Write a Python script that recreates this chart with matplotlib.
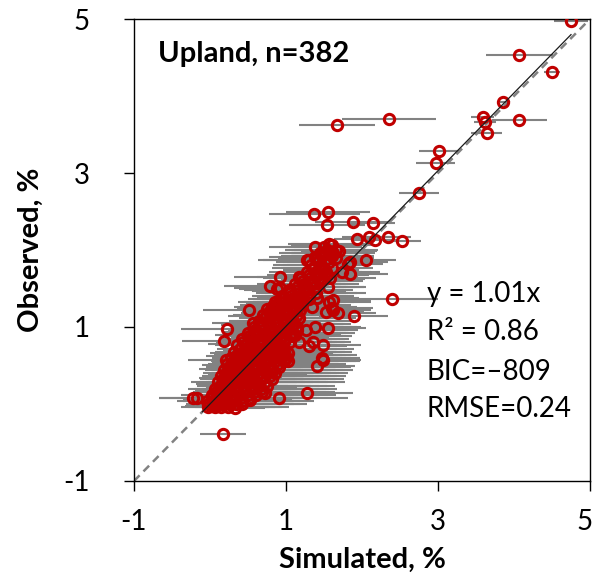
"""
Observed vs simulated (upland), with horizontal error bars on simulated values.
"""

import matplotlib
import matplotlib.pyplot as plt
import numpy as np
from matplotlib.transforms import ScaledTranslation

matplotlib.use("Agg")

plt.rcParams["font.family"] = ["Lato", "DejaVu Sans"]
plt.rcParams["axes.unicode_minus"] = False

# ── sparse / outlying points ───────────────────────────────────────────────
sparse_sim = [4.75, 4.07, 4.50, 3.86, 3.59, 3.62, 4.07, 3.64, 2.36, 1.67,
              3.01, 2.97, 2.75, 1.37, 1.55, 1.54, 1.88, 2.14, 1.93, 2.09,
              2.17, 2.34, 2.53, 1.38, 1.61, 1.70, 1.30, 1.66, 1.84, 2.05,
              0.92, 1.17, 1.58, 1.84, 0.79, 0.88, 1.05, 2.40, 1.17, 0.51,
              0.92, 1.57, 1.62, 1.68, 1.89, 0.57, 0.22, 0.18, 1.17, 1.36,
              1.30, 1.49, 1.55, 1.38, 1.26, 0.21, 1.47, 1.49, 1.41, 1.28,
              0.91, 0.72, 0.53, 0.33, -0.17, -0.22, 0.17, 1.53, 1.60, 1.62,
              1.41, 1.34, 1.55, 1.49, 1.82, 1.74, 1.62, 1.51, 1.38, 1.28,
              1.05, 0.92]
sparse_obs = [4.97, 4.53, 4.31, 3.92, 3.73, 3.66, 3.69, 3.52, 3.70, 3.62,
              3.29, 3.13, 2.74, 2.47, 2.49, 2.32, 2.36, 2.35, 2.14, 2.17,
              2.13, 2.17, 2.12, 2.04, 2.06, 1.99, 1.87, 1.90, 1.84, 1.87,
              1.65, 1.65, 1.64, 1.69, 1.53, 1.49, 1.47, 1.36, 1.36, 1.22,
              1.32, 1.32, 1.22, 1.18, 1.14, 1.05, 0.97, 0.82, 0.81, 0.81,
              0.75, 0.76, 0.99, 1.00, 0.96, 0.57, 0.60, 0.57, 0.49, 0.14,
              0.08, 0.14, 0.05, -0.05, 0.08, 0.08, -0.39, 1.19, 1.25, 1.35,
              1.38, 1.26, 1.52, 1.62, 1.82, 1.71, 1.96, 1.96, 1.91, 1.87,
              1.48, 1.51]
sparse_err = [0.22, 0.44, 0.10, 0.05, 0.15, 0.14, 0.36, 0.20, 0.62, 0.50,
              0.26, 0.26, 0.26, 0.60, 0.55, 0.50, 0.50, 0.30, 0.30, 0.35,
              0.30, 0.30, 0.25, 0.60, 0.55, 0.50, 0.60, 0.50, 0.50, 0.40,
              0.60, 0.55, 0.60, 0.50, 0.60, 0.50, 0.50, 0.60, 0.60, 0.60,
              0.55, 0.55, 0.50, 0.50, 0.45, 0.55, 0.60, 0.55, 0.60, 0.50,
              0.50, 0.50, 0.50, 0.55, 0.55, 0.50, 0.50, 0.50, 0.50, 0.60,
              0.90, 0.60, 0.55, 0.40, 0.50, 0.45, 0.30, 0.50, 0.55, 0.50,
              0.55, 0.60, 0.50, 0.55, 0.45, 0.50, 0.55, 0.60, 0.60, 0.65,
              0.60, 0.60]

# ── dense core, read row by row (observed level -> simulated values) ──────
core_obs = [-0.04, 0.00, 0.04, 0.08, 0.12, 0.16, 0.20, 0.24, 0.28, 0.32,
            0.36, 0.40, 0.44, 0.48, 0.52, 0.56, 0.60, 0.64, 0.68, 0.72,
            0.76, 0.80, 0.84, 0.88, 0.92, 0.96, 1.00, 1.04, 1.08, 1.12,
            1.16, 1.20, 1.24, 1.28, 1.32, 1.36, 1.40, 1.44, 1.48, 1.52,
            1.56, 1.60, 1.64, 1.68, 1.72, 1.76, 1.80, 1.84, 1.88, 1.92,
            1.96, 2.00, 2.04, 2.08]
core_sim = [
    [-0.03, 0.06, 0.15, 0.24],
    [-0.02, 0.07, 0.16, 0.25, 0.34, 0.42],
    [-0.04, 0.05, 0.14, 0.23, 0.32, 0.42],
    [0.03, 0.12, 0.21, 0.31, 0.41, 0.51],
    [0.02, 0.11, 0.20, 0.29, 0.39, 0.50, 0.61],
    [0.08, 0.17, 0.27, 0.37, 0.47, 0.58, 0.69],
    [0.06, 0.15, 0.25, 0.35, 0.45, 0.56, 0.67],
    [0.13, 0.23, 0.33, 0.43, 0.53, 0.64, 0.75],
    [0.10, 0.20, 0.30, 0.40, 0.50, 0.61, 0.73],
    [0.17, 0.27, 0.37, 0.48, 0.58, 0.69, 0.81],
    [0.14, 0.24, 0.35, 0.45, 0.56, 0.67, 0.79],
    [0.21, 0.31, 0.42, 0.53, 0.64, 0.75, 0.86],
    [0.18, 0.28, 0.39, 0.50, 0.61, 0.72, 0.83],
    [0.25, 0.36, 0.47, 0.58, 0.69, 0.80, 0.91],
    [0.23, 0.34, 0.45, 0.56, 0.67, 0.78, 0.89],
    [0.31, 0.42, 0.53, 0.64, 0.75, 0.86, 0.97, 1.03],
    [0.28, 0.39, 0.50, 0.61, 0.72, 0.83, 0.94, 1.00],
    [0.35, 0.46, 0.57, 0.68, 0.79, 0.90, 0.99],
    [0.32, 0.43, 0.54, 0.65, 0.76, 0.87, 0.97],
    [0.39, 0.50, 0.61, 0.72, 0.83, 0.94],
    [0.36, 0.47, 0.58, 0.69, 0.80, 0.91],
    [0.43, 0.54, 0.65, 0.76, 0.87, 0.98],
    [0.42, 0.53, 0.64, 0.75, 0.86, 0.98],
    [0.51, 0.62, 0.73, 0.84, 0.95, 1.07],
    [0.50, 0.61, 0.72, 0.83, 0.94, 1.06],
    [0.59, 0.70, 0.81, 0.92, 1.03, 1.15],
    [0.58, 0.69, 0.80, 0.91, 1.02, 1.14],
    [0.67, 0.78, 0.89, 1.00, 1.11],
    [0.65, 0.76, 0.87, 0.98, 1.09],
    [0.73, 0.84, 0.95, 1.06, 1.17],
    [0.70, 0.81, 0.92, 1.03, 1.14],
    [0.77, 0.88, 0.99, 1.10],
    [0.75, 0.86, 0.97, 1.08],
    [0.85, 0.97, 1.09, 1.20],
    [0.85, 0.97, 1.09, 1.20],
    [0.95, 1.07, 1.19, 1.30],
    [0.95, 1.07, 1.19, 1.30],
    [1.05, 1.17, 1.29, 1.40],
    [1.04, 1.16, 1.28],
    [1.14, 1.26, 1.38],
    [1.12, 1.24, 1.36],
    [1.22, 1.34, 1.46],
    [1.20, 1.32, 1.44],
    [1.30, 1.42, 1.54],
    [1.28, 1.40, 1.52],
    [1.36, 1.49, 1.60],
    [1.33, 1.46],
    [1.42, 1.56],
    [1.40, 1.52],
    [1.48, 1.61],
    [1.45, 1.58],
    [1.54, 1.66],
    [1.50],
    [1.57],
]
# error bars of the core are longer on the high side
core_err_lo = [0.35, 0.30, 0.40, 0.35, 0.40, 0.30, 0.35, 0.30, 0.35, 0.30,
               0.25, 0.30, 0.25, 0.30, 0.25, 0.30, 0.25, 0.30, 0.25, 0.30,
               0.30, 0.35, 0.30, 0.35, 0.30, 0.35, 0.30, 0.35, 0.40, 0.35,
               0.40, 0.35, 0.40, 0.45, 0.40, 0.45, 0.40, 0.45, 0.50, 0.45,
               0.50, 0.45, 0.50, 0.55, 0.50, 0.55, 0.50, 0.55, 0.50, 0.55,
               0.50, 0.55, 0.50, 0.55]
core_err_hi = [0.80, 0.85, 0.95, 0.90, 1.05, 0.95, 1.00, 0.90, 1.05, 0.95,
               1.00, 0.95, 1.05, 0.95, 0.90, 0.95, 0.85, 0.95, 0.90, 0.95,
               0.85, 0.80, 0.85, 0.80, 0.85, 0.80, 0.85, 0.75, 0.80, 0.75,
               0.70, 0.75, 0.70, 0.65, 0.70, 0.65, 0.60, 0.65, 0.60, 0.65,
               0.60, 0.55, 0.60, 0.55, 0.60, 0.55, 0.60, 0.55, 0.60, 0.55,
               0.50, 0.55, 0.50, 0.55]

# ── further points inside the core ────────────────────────────────────────
fill_sim = [0.10, 0.30, 0.55, 0.22, 0.40, 0.62, 0.30, 0.50, 0.72, 0.92,
            0.40, 0.60, 0.82, 1.02, 0.48, 0.70, 0.92, 1.05, 0.56, 0.78,
            1.00, 0.64, 0.86, 1.08, 0.74, 0.96, 1.18, 0.82, 1.02, 1.12,
            1.24, 1.32, 1.40, 1.46, 1.12, 0.20, 0.02]
fill_obs = [0.06, 0.10, 0.22, 0.26, 0.34, 0.38, 0.46, 0.50, 0.54, 0.62,
            0.62, 0.66, 0.70, 0.66, 0.78, 0.82, 0.86, 0.80, 0.90, 0.94,
            0.98, 1.02, 1.06, 1.02, 1.14, 1.18, 1.22, 1.26, 1.30, 1.38,
            1.46, 1.56, 1.66, 1.74, 0.90, 0.18, -0.02]
fill_err = [0.45, 0.50, 0.60, 0.40, 0.55, 0.65, 0.45, 0.60, 0.70, 0.65,
            0.45, 0.60, 0.65, 0.60, 0.50, 0.60, 0.65, 0.55, 0.50, 0.60,
            0.55, 0.50, 0.60, 0.55, 0.50, 0.55, 0.55, 0.50, 0.55, 0.50,
            0.55, 0.50, 0.55, 0.50, 0.60, 0.40, 0.35]

fit_slope = 1.01
fit_range = [-0.10, 4.75]
ticks = [-1, 1, 3, 5]
stats_lines = ["y = 1.01x", "R² = 0.86", "BIC=–809", "RMSE=0.24"]

# assemble full series
sim = list(sparse_sim) + list(fill_sim)
obs = list(sparse_obs) + list(fill_obs)
err_lo = list(sparse_err) + list(fill_err)
err_hi = list(sparse_err) + list(fill_err)
for yo, xs, lo, hi in zip(core_obs, core_sim, core_err_lo, core_err_hi):
    sim += xs
    obs += [yo] * len(xs)
    err_lo += [lo] * len(xs)
    err_hi += [hi] * len(xs)
sim, obs = np.array(sim), np.array(obs)

fig = plt.figure(figsize=(5.95, 5.85), dpi=100)
ax = fig.add_axes([0.2252, 0.1778, 0.7664, 0.7897])

ax.errorbar(sim, obs, xerr=[err_lo, err_hi], fmt="none", ecolor="#828282",
            elinewidth=1.5, capsize=0, zorder=1)
ax.plot([-1, 5], [-1, 5], color="#828282", lw=1.8, dashes=(3.2, 2.2), zorder=2)
ax.plot(sim, obs, "o", ms=7.4, mfc="none", mec="#c00000", mew=2.2, zorder=3)
fx = np.array(fit_range)
ax.plot(fx, fit_slope * fx, color="#1a1a1a", lw=0.9, zorder=4)

ax.set_xlim(-1, 5)
ax.set_ylim(-1, 5)
ax.set_xticks(ticks)
ax.set_yticks(ticks)
ax.tick_params(direction="out", length=7, width=1, labelsize=20, color="black")
ax.tick_params(axis="x", pad=13)
ax.tick_params(axis="y", pad=25)
for s in ax.spines.values():
    s.set_linewidth(1)
    s.set_color("black")

# keep the last x tick label inside the figure
last = ax.get_xticklabels()[-1]
last.set_transform(last.get_transform() + ScaledTranslation(-5 / 100, 0, fig.dpi_scale_trans))

ax.set_xlabel("Simulated, %", fontsize=21, fontweight="bold", labelpad=9)
ax.set_ylabel("Observed, %", fontsize=21, fontweight="bold", labelpad=14)

ax.text(-0.68, 4.44, "Upland, n=382", fontsize=21, fontweight="bold",
        va="baseline", ha="left")
for yb, line in zip([1.33, 0.83, 0.31, -0.17], stats_lines):
    ax.text(2.855, yb, line, fontsize=20, va="baseline", ha="left")

fig.savefig("out.png", dpi=100)
